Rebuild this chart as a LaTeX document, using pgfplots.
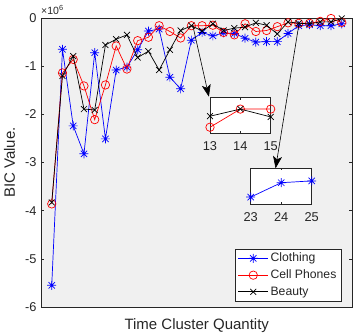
\documentclass[border=0pt]{standalone}
\usepackage{pgfplots}
\pgfplotsset{compat=1.18}
\usepackage{pgfplotstable}
\usepackage{fontspec}
\setmainfont{Liberation Sans}
\usetikzlibrary{arrows.meta}

\definecolor{axbg}{RGB}{240,240,240}
\definecolor{axcol}{RGB}{38,38,38}

% MATLAB-like asterisk: plus and cross on top of each other
\pgfdeclareplotmark{mstar}{%
  \pgfpathmoveto{\pgfqpoint{-\pgfplotmarksize}{0pt}}%
  \pgfpathlineto{\pgfqpoint{\pgfplotmarksize}{0pt}}%
  \pgfpathmoveto{\pgfqpoint{0pt}{-\pgfplotmarksize}}%
  \pgfpathlineto{\pgfqpoint{0pt}{\pgfplotmarksize}}%
  \pgfpathmoveto{\pgfqpoint{-.7071\pgfplotmarksize}{-.7071\pgfplotmarksize}}%
  \pgfpathlineto{\pgfqpoint{.7071\pgfplotmarksize}{.7071\pgfplotmarksize}}%
  \pgfpathmoveto{\pgfqpoint{-.7071\pgfplotmarksize}{.7071\pgfplotmarksize}}%
  \pgfpathlineto{\pgfqpoint{.7071\pgfplotmarksize}{-.7071\pgfplotmarksize}}%
  \pgfusepathqstroke}

\pgfplotstableread{
x  clothing  cell      beauty
1  -5.55e6   -3.86e6   -3.83e6
2  -0.65e6   -1.14e6   -1.20e6
3  -2.24e6   -0.86e6   -0.79e6
4  -2.82e6   -1.41e6   -1.89e6
5  -0.72e6   -2.11e6   -1.91e6
6  -2.51e6   -1.39e6   -0.56e6
7  -1.08e6   -0.58e6   -0.44e6
8  -1.02e6   -1.06e6   -0.35e6
9  -0.66e6   -0.47e6   -0.82e6
10 -0.27e6   -0.40e6   -0.69e6
11 -0.23e6   -0.16e6   -1.08e6
12 -1.23e6   -0.28e6   -0.66e6
13 -1.47e6   -0.415e6  -0.26e6
14 -0.46e6   -0.16e6   -0.16e6
15 -0.30e6   -0.16e6   -0.27e6
16 -0.37e6   -0.15e6   -0.12e6
17 -0.31e6   -0.30e6   -0.26e6
18 -0.32e6   -0.35e6   -0.21e6
19 -0.42e6   -0.12e6   -0.19e6
20 -0.50e6   -0.28e6   -0.10e6
21 -0.49e6   -0.26e6   -0.15e6
22 -0.49e6   -0.18e6   -0.33e6
23 -0.32e6   -0.10e6   -0.08e6
24 -0.16e6   -0.11e6   -0.11e6
25 -0.14e6   -0.11e6   -0.12e6
26 -0.16e6   -0.07e6   -0.08e6
27 -0.16e6   -0.01e6   -0.08e6
28 -0.12e6   -0.09e6   -0.01e6
}\bic

\pgfplotsset{
  matlab/.style={
    scale only axis,
    axis line style={axcol, line width=0.6pt},
    tick style={axcol, line width=0.6pt},
    tick align=inside,
    ticklabel style={font=\fontsize{12.8}{15}\selectfont, text=axcol},
    /pgf/number format/assume math mode=true,
    scaled ticks=false,
    clip mode=individual,
  },
  clo/.style={blue, line width=0.7pt, mark=mstar, mark size=4.5pt, mark options={solid}},
  cel/.style={red, line width=0.7pt, mark=o, mark size=4.2pt, mark options={solid}},
  bea/.style={black, line width=0.7pt, mark=x, mark size=4.2pt, mark options={solid}},
}

\begin{document}
\begin{tikzpicture}
\path[use as bounding box] (-41pt,-28pt) rectangle (316pt,307pt);

\begin{axis}[
    matlab,
    name=main,
    at={(0pt,0pt)}, anchor=south west,
    width=311.5pt, height=289pt,
    xmin=0, xmax=29,
    ymin=-6e6, ymax=0,
    xtick=\empty,
    ytick={-6000000,-5000000,-4000000,-3000000,-2000000,-1000000,0},
    yticklabels={-6,-5,-4,-3,-2,-1,0},
    yticklabel style={xshift=-1pt},
    major tick length=3.3pt,
    axis background/.style={fill=axbg},
    xlabel={Time Cluster Quantity},
    ylabel={BIC Value.},
    every axis x label/.style={at={(axis description cs:0.5,-0.078)}, anchor=base,
      font=\fontsize{15}{18}\selectfont, text=axcol},
    every axis y label/.style={at={(axis description cs:-0.0835,0.5)}, anchor=base, rotate=90,
      font=\fontsize{15}{18}\selectfont, text=axcol},
    legend style={at={(0.965,0.021)}, anchor=south east, draw=axcol, fill=white,
      font=\fontsize{12.2}{14}\selectfont, text=axcol, row sep=2.5pt,
      inner xsep=3pt, inner ysep=2pt},
    legend cell align=left,
    legend image code/.code={
      \draw[mark repeat=2, mark phase=2] plot coordinates {(0pt,0pt) (15pt,0pt) (30pt,0pt)};
    },
  ]
  \addplot[clo] table[x=x, y=clothing] {\bic};
  \addplot[cel] table[x=x, y=cell] {\bic};
  \addplot[bea] table[x=x, y=beauty] {\bic};
  \legend{Clothing, Cell Phones, Beauty}

  \node[anchor=base west, inner sep=0pt, text=axcol, font=\fontsize{10.5}{12}\selectfont]
    at (rel axis cs:0,1) [xshift=0pt, yshift=4pt] {×10\textsuperscript{6}};

  \draw[black, line width=0.6pt, -{Stealth[length=12pt, width=9pt, inset=3pt]}]
    (axis cs:14.12,-145000) -- (axis cs:15.63,-1633000);
  \draw[black, line width=0.6pt, -{Stealth[length=12pt, width=9pt, inset=3pt]}]
    (axis cs:24.0,-145000) -- (axis cs:21.84,-3120000);
\end{axis}

% zoomed view of clusters 13-15
\begin{axis}[
    matlab,
    at={(169pt,173.7pt)}, anchor=south west,
    width=60.7pt, height=35.6pt,
    xmin=13, xmax=15, ymin=-0.5e6, ymax=0,
    xtick={13,14,15}, ytick=\empty,
    major tick length=2pt,
    xticklabel style={yshift=-5pt},
    axis background/.style={fill=white},
  ]
  \addplot[cel, restrict x to domain=13:15] table[x=x, y=cell] {\bic};
  \addplot[bea, restrict x to domain=13:15] table[x=x, y=beauty] {\bic};
\end{axis}

% zoomed view of clusters 23-25
\begin{axis}[
    matlab,
    at={(209.7pt,102.7pt)}, anchor=south west,
    width=61pt, height=36pt,
    xmin=23, xmax=25, ymin=-0.4e6, ymax=0,
    xtick={23,24,25}, ytick=\empty,
    major tick length=2pt,
    xticklabel style={yshift=-5pt},
    axis background/.style={fill=white},
  ]
  \addplot[clo, restrict x to domain=23:25] table[x=x, y=clothing] {\bic};
\end{axis}
\end{tikzpicture}
\end{document}
